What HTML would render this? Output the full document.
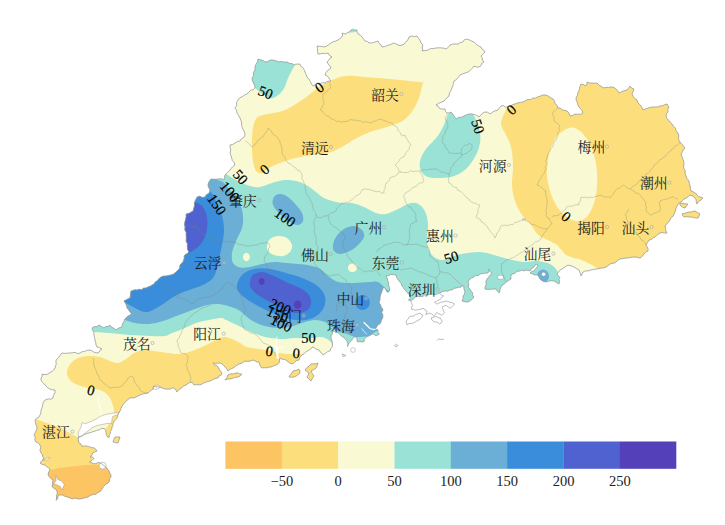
<!DOCTYPE html><html><head><meta charset="utf-8"><title>map</title><style>html,body{margin:0;padding:0;background:#fff;}body{width:725px;height:525px;overflow:hidden;font-family:"Liberation Sans",sans-serif;}svg{display:block;}</style></head><body><svg width="725" height="525" viewBox="0 0 725 525"><defs><clipPath id="gd"><path d="M258,59L260.4,59.8L262.9,60.5L265,62L267.7,61.6L270.2,60L273,60L275,60.7L277.1,61.1L279,62L281,61.3L283,62L285,62L287.5,62.1L289.5,63.4L292,63.6L294,65L295.9,64.1L298,64.2L300,64L300.8,66.3L303,67.7L304.1,69.8L305,72L306,74.3L306.8,76.7L308.5,78.7L309.9,80.7L311,83L312,85L314,86L315.6,84L318,83L320.3,83.5L322.7,82.7L325,83L326.8,81.8L328.8,81.1L331,81L329.8,79.7L329,78L327.3,76.1L325,75L326.1,72.3L328,70L329.6,69.1L331,68L329.8,65.9L328.2,64.1L327,62L328.7,60.4L329.9,58.2L332,57L329.5,55.5L328,53L325.5,53.7L323,53.2L320.5,53.9L318,54L317.4,51.4L317.5,48.7L317,46L319.3,46.3L321.7,46.4L324,47L326.6,46.1L328.8,44.6L331,43L333.2,41.6L335.7,41.1L338,40L340,38.5L342,37L342.6,35L342,33L343.9,33.8L346,34L347.5,32.4L349.8,31.9L351,30L352.5,29.4L354,30L355.5,29.9L357,30L357.1,32.1L358,34L360.3,35.1L362,37L363.5,39L365,41L367.3,41.4L369,43L371,42.9L373.1,42.7L375,42L376.5,41.6L378,41L378.9,43.3L380.9,44.8L382,47L384.4,46.6L386.7,45.8L389,45L391.5,44.1L394,43L396,43.9L398,45L400,45.5L402,45L404.1,44.2L405.3,42.3L407,41L408.2,39.1L409,37L411.6,36L414.4,36.6L417,36L418.3,38.1L420,40L420.9,42.9L423,45L422.2,46.9L422.7,49.1L422,51L424,50.5L426,50.6L428,50L430.5,48.6L433.3,48.6L436,48L438.5,47.8L441.1,47.9L443.6,48.1L446,49L448.3,47.3L450,45L452.6,44.1L455.3,44L458,44L460.2,42.6L462.8,42L464.4,39.7L467,39L469.4,39.9L471.6,41.1L474,42L476,44.1L478.4,45.7L481,47L481.9,49L483.9,50.1L485,52L483.1,54.1L481,56L482.2,57.9L482.5,60.3L484,62L481.8,63.2L481,65.7L479,67L476.4,67L474,66L472.3,68.3L470.3,70.3L468,72L465.3,73L462.6,73.9L460,75L458.3,77.3L456.5,79.5L454,81L453.5,83.4L452.9,85.7L452,88L450.9,90.6L449.4,93.1L449,96L447.1,97.5L445.7,99.3L444,101L441.3,102.2L438.5,103.4L436,105L438,106L439,108L440.9,108.9L442.9,109.1L445,109L445.5,111.3L447,113L449.1,112.9L451,112L452.8,114.2L454.5,116.6L456,119L458.5,117.4L461.4,117.2L464,116L466.5,114.7L469.2,114L472,114L474.5,114.6L476.9,115.5L479,117L480.8,115.1L482.6,113.2L485,112L487.8,112.3L490,114L492.4,112.2L495.1,110.8L498,110L499.3,107.9L501,106L503.4,105.6L505.6,107.2L508,107L510.4,106.2L512.5,104.5L515,104L517.6,103L520.3,102.4L523,102L525.4,100.8L527.8,99.5L530.7,99.5L533,98L535.6,98.1L537.8,96.8L540.2,96.2L542.4,95L545,95L547.9,95.8L550.4,97.5L553,99L554.6,101.1L555.1,103.7L557.2,105.5L558,108L560.5,108.1L562.3,110.1L564.7,110.3L567,111L569,113.2L570,116L572.6,115.5L575,114.1L577.8,114.2L580.6,114.3L583,113L582.1,110.7L580.6,108.8L579,107L577.9,104.9L577.3,102.6L576.3,100.4L576,98L577.4,95.3L578,92.4L579.4,89.7L579.8,86.7L581,84L583.7,84.6L586,86L587,84.1L587,82L589.4,83L591.9,83L594.5,83.2L597,83L599.1,85.1L601.5,86.6L604,88L606.2,87.3L608.5,87.5L610.7,87L613,87L615.5,88.5L617.5,90.5L619,93L621.6,91.7L624.2,90.7L627,90L628.7,88.2L630,86L631.6,88L634,89L633.1,91.5L632,94L633.2,96.4L634.8,98.5L637,100L637.9,102.9L640.2,104.9L641.9,107.3L643,110L645.4,108.9L647.9,108.1L650.4,107.3L653,107L655.4,106.9L657.8,106.9L660,106L662.5,105.8L664.7,104.6L667,104L667.8,105.6L669,107L667.8,109.1L668.1,111.7L666.5,113.7L666,116L667,118.4L668.7,120.3L670.2,122.2L672,124L673.5,126.2L675.4,128.2L676.1,131L678,133L678.7,135.2L678.6,137.6L678.8,139.9L680,142L681.8,143.9L683.4,145.9L685,148L683.1,150L682,152.5L681,155L682.2,157.1L683,159.3L683.7,161.6L684,164L683.6,166.3L684,168.6L685.3,170.7L685,173L685.9,175.9L687,178.7L689,181L689.3,183.5L690.2,186L690.4,188.5L691,191L693.3,191.9L695.4,193.1L697,195L698.7,196.6L700.9,197.2L703,198L701,200L698.5,201.5L697,204L696.2,202L696.2,199.8L695,198L692.8,196.1L690,195L688.2,196.7L686.2,198L684,199L682.5,200.6L680.9,202L679,203L677.4,205.4L676,208L675.7,210.1L674.8,212L674,214L673.1,216.3L670.8,217.7L670,220L668.5,222.1L666.7,224L665,226L665.5,228.4L665.8,230.8L667,233L664.7,233.1L662.3,232.4L660,233L658.3,234.3L656.6,235.6L655,237L653,238L651.3,239.6L649,240L647.6,242.5L646,245L647.1,246.8L648,248.8L648,251L645.7,252.1L644,254L642.3,256.3L640,258L638,257.7L636.1,257L634,257L631.3,257.2L628.7,257.9L626,258L624,258.3L622,258.6L620,259L617.7,260.2L616,262L614.2,263.2L612,263.2L610,264L608.2,265.6L606.2,266.9L604,268L601.3,267.9L598.7,268.7L596,269L593.3,269.6L590.6,270L588,271L585.4,270.9L583,272L582.1,274L581,276L580.5,273.9L579.7,272L579,270L576.5,268.5L574,267L572.1,266.1L570,265.7L568,265L566,266.3L564,267.7L562,269L559.9,270.2L558.5,272.1L557,274L558.1,275.9L560,277L559,279.2L559.7,281.7L559,284L556.5,282.4L554,281L551.3,280.7L548.6,281.2L546,282L543.8,281.5L541.7,280.5L540,279L538.9,277L538,275L535.2,275L532.6,274L530,273L531.7,271.4L534,271L535.5,269.1L537,267.2L538,265L536.5,264.4L535,265L533.7,267.3L531.4,268.8L530,271L528.1,270.3L526,270L524.1,270.9L521.9,270.1L520,271L517.1,271.3L514.8,273.4L512,274L510.8,276.4L511,279L508.6,280.6L506,282L504.5,283.8L502.4,285L501.1,286.9L500,289L500,291.1L499,293L497.4,291.1L496,289L493.2,289L490.5,289.2L487.8,289.5L485,289L485.2,286.4L486.3,284.1L485.8,281.4L487,279L488.7,277.1L490.3,274.9L492,273L489.9,271.4L489,269L488.7,271.1L488,273L485.3,273.1L482.7,273.6L480,274L478.3,275.6L475.7,275.3L474,277L471.3,278.1L469,280L468,282.2L468.9,284.8L468,287L469.8,288.8L471,291L472.6,292.7L472.6,295.2L474,297L472.2,299.2L470,301L468.1,302L466,302L464,301.6L462,301L463.1,298.6L463,296L464.4,294.2L465,292L464.3,290.1L463.8,288.1L464,286L462.3,285.9L461,287L458.5,287.4L456,288L453.9,288.4L452.2,289.9L450,290L447.6,291.2L445,291L442.9,291.4L441,292.4L439,293L436.7,294.4L434,294.5L431.6,294L429.3,294.6L427,295L424.6,295.1L422.5,296.7L420,296.6L417.5,296.3L415,297L413.2,299.4L410.5,300.7L408.4,300L409.9,298.8L410.5,297L409,294.5L407.4,292.8L406,291L404.5,289.5L403.4,287.6L402,286L401,283.2L399,281L397.7,279.2L396.5,277.2L396,275L393.5,274.7L391,274.5L388.6,275.6L386,276L387.2,278.1L387.7,280.4L388.5,282.6L388.4,285L389.5,287.4L389.8,290L389,291.4L387.8,292.4L386.5,290.9L385.7,289L384.5,288L383,287.6L382.6,289.9L381.6,292L380.8,294.5L380,297L380.1,299.1L379.6,301L379,303L380.6,304.7L381,307L382.3,308.3L383,310L381.6,312.4L382.9,314.8L382.8,317.6L381.4,320.2L380.7,323L378.8,324.4L377,326L376.4,327.6L375,328.6L376.5,329.3L378,330L378,332.2L379.3,334L377.3,335.3L375,335.5L373.9,334.3L372.4,334L370.4,335.2L368.3,336.2L366.9,336.9L365.5,337.6L364.3,339.5L364,341.7L361.7,341.9L359.5,341.7L357.2,341.7L357.1,339.3L356.5,337L354.5,337L353,338.3L351.5,340.5L349.7,342.4L348.2,344.2L347.6,346.5L347.9,344.4L347.6,342.4L346.4,340.2L344.8,338.3L342.9,337L341,335.6L339.3,334L337.4,332.4L336.5,330L334.6,331.2L332.4,331.4L332.6,333.7L331.1,335.7L331,338L331.8,340.3L332.4,342.6L332.4,345L332.3,347.1L330.5,348.6L330.3,350.7L327.6,351.6L325.5,353.4L323,355L321.9,353.2L320.1,351.9L319,350L316.8,349.3L314.9,348.3L313,347L311,348.4L309.3,350.1L307,351L305.4,352.4L303.9,353.9L302,355L299.9,357.1L299,360L296.3,360.7L294.3,362.6L292,364L289.3,362.8L287,361L284.9,359.4L282.2,359.3L280,358L279.5,360.1L279.4,362.2L278,364L275.7,365.2L273.3,366L271,367L268.7,367.2L266.5,367.9L264.2,367.7L262,368L260.3,366.3L259.7,364.2L259,362L256.8,361.9L255,360.8L253,360L250.4,361L247.8,361.4L245,361L243.1,362.3L241.2,363.4L239,364L236.9,365.2L235,366.6L233,368L230.3,369.2L228,371L226.7,368.9L225,367L223.5,365.4L222,363.9L220,363L217.7,363.2L215.3,363.3L213,363L214.2,364.9L216.7,365.3L218,367L219.1,369.2L220.5,371.1L222,373L221.2,375.1L218.9,376L218,378L215.1,378.4L212.6,379.8L210,381L207.2,381.7L204.5,382.6L202,384L199.4,384.9L196.7,384.6L194,385L193,383.5L192,382L189.8,382.6L187.8,383.6L186,385L183.7,385.9L181.9,387.6L180,389L178.1,390.1L177,392L175.7,389.8L174,388L172,388L170.1,389.1L168,389L165.2,389L162.5,388.2L160,387L158,386.9L155.9,386.9L154,386L153,387.3L153,389L151.3,390.3L149.5,391.5L148,393L145.3,393.5L142.6,394.1L140,395L138,396L136,397L133.6,398L131,397.6L128.5,398.9L126.5,401L124.7,402.4L123.5,404.3L122,406L121,408.5L120,411L118.5,413.4L117.5,416L116.8,418.5L115,420.4L113.7,421.9L113,423.7L112.9,425.5L112,427L111.7,429.5L110.3,431.5L110.3,433.6L109.2,435.4L109.2,437.5L107.5,437L106.3,434.6L106,432L105.6,430.1L104.6,428.5L101.7,428.4L99.2,429.8L96.5,430.4L94,431.4L91.3,432.2L88.7,433L86.4,433.7L84.1,434.6L82,436L80.1,436.3L78.2,437L78.3,439.8L78.8,442.5L80.9,444L82,446.4L84.2,445.9L86.5,446L88.7,446.4L91.4,447.6L94.3,448L95.9,449.3L97,451L94.8,451.9L92.6,453L91.9,455.4L90,457L92.2,457L94,458.3L92,460.4L89.5,462L91.4,462.8L93.3,463.5L95.3,463.8L96.8,463.3L98,462.4L100,463L102.2,464.1L104,465.7L106,467L107.5,469L109,471L109.7,473L110.9,474.8L111,477L109.5,478.7L109.4,481.2L108,483L105.5,484.5L103.5,486.5L102,489L100.5,491.2L98,492.4L96,494L93.2,494.6L90.4,495.3L88,497L85.5,497.6L83.1,498.3L80.6,498.9L78,499L75.4,498L72.6,498.8L70,498L67.7,496.9L65.1,496.5L63,495L61.2,495L59.5,495L57.8,496.4L57.6,498.8L56,500.3L56.7,498L56.5,495.7L57.3,493.4L57,491L55.5,489.1L53.4,488L52,486L52.9,484.1L52.6,482L53,480L50.8,478.5L49.1,476.5L48,474L49,471.5L50,469L48.3,467.7L46.5,466.6L45,465L42.3,464.5L40,463L41.8,460.8L44,459L42.8,457.1L42.5,454.8L41,453L39.9,450.4L40.7,447.6L40,445L38.3,443.1L36,442L34.8,439.8L35.3,437.2L34,435L35.3,432.4L36.6,429.9L37,427L36,424.8L35.5,422.4L35,420L36.6,418.2L38.9,417.2L40,415L40.8,412.7L41.1,410.3L42,408L42.6,405.6L43,403.2L44,401L46,399.6L48.3,398.9L50.9,399.2L53,398L53.4,395.3L55,392.8L55,390L52.4,389.9L50,389L47.8,387.8L46,386L44.3,384L42.3,382.3L41,380L41.1,378L42.3,376.1L42,374L44,374.6L46,374.5L48,374L49.9,372.6L51.9,371.5L53.7,370L55,368L55.6,365.8L56.3,363.6L55.8,361.1L57,359L58.9,357.2L60.3,355L62,353L64.7,353.4L67.3,353.2L70,353L72.5,352.7L75,352.3L77.5,353.6L80,353L82.1,351.7L84.5,351.5L86.7,350.5L89,350L91.8,350.7L94.2,352.3L97,353L99.1,352.2L100.1,350.1L102,349L99.6,347.8L97,347L96,344.7L95.7,342.3L95,340L94.5,337.4L93.8,334.7L94,332L92.5,330.2L92,328L94.2,326.6L96.9,326.6L99,325L101.5,326.5L104,328L105.8,326.6L108.3,326.5L110,325L111.5,327.2L114,328.3L116,330L117.8,328.5L119.8,327.6L122,327L122.4,324.1L123.8,321.6L125,319L127,316.8L129.4,315.3L132,314L130.1,312.2L128.7,309.9L127,308L126.5,305.4L125.3,303.2L124,301L125.9,299.9L127.9,298.9L130,298L130.4,295.7L130.5,293.3L131,291L133,290.4L134.9,289.7L137,290L139.2,289.2L141.7,289.7L143.6,288L146,288L148,287L150.1,286.2L152,285L154,284.1L155.1,282L157,281L158.8,278.8L161,277L163.4,276.1L166,275.9L168.5,275.4L171,275L173.7,273.9L176,272.1L178,270L179.7,268.3L179.9,265.6L181.2,263.6L183,262L183.6,260.1L184.3,258.1L184,256L185.6,254.6L187.4,253.4L189,252L187.5,249.4L187.3,246.5L187.4,243.6L186,241L186.3,238.2L186.1,235.4L186.1,232.5L184.8,229.8L185,227L184.6,224.4L184.9,221.8L185.6,219.2L186.1,216.6L186,214L188.6,213.6L190.8,212.3L193,211L193.7,208.5L194.4,206.1L194.4,203.5L195,201L196.1,199L197,197L199.7,196.3L202.3,197.4L205,197L206.4,194.7L208.8,193.4L210,191L209.5,188.9L208.4,187.1L208,185L208.5,182.8L209.7,180.8L211,179L213.3,179.2L215.7,179.3L218,179L220.1,178.8L222.1,179L224,180L224.5,177.5L225,175L227.1,173.1L229,171L230.9,168.9L232.7,166.7L235,165L234.1,162.5L232.3,160.5L231.7,157.9L230.9,155.4L230,153L230.7,150.3L230.2,147.7L230,145L232.7,144.5L235,143L237.4,141.6L240,141L241.4,138.8L243.9,137.4L245,135L244.5,132.1L243.1,129.4L241.8,126.7L241.7,123.7L241.1,120.8L240,118L238.6,115.6L237.2,113.2L236.5,110.4L235,108L236.6,105.6L236.6,102.5L238,100L239.8,97.8L242.3,96.6L244.5,95.1L247,93.8L249,92L250.7,90.3L253.2,89.7L255,88L254.6,85.4L253.5,83L252.3,80.6L252,78L253.5,75.5L253.4,72.5L255,70L255,67L255.9,64.3L257.5,61.8ZM682,214L684.3,213.3L686.7,212.7L689,212L691.1,212.1L693,211.3L695,211L697.5,212.5L700,214L698.9,216L698,218L695.6,218L693.3,217.3L691,217L688.7,216.9L686.3,216.7L684,217L682.7,215.7ZM680,203L682.7,203.3L685.3,203.8L688,204L686.4,205.9L685,208L682.8,207.3L681,206L680,204.7ZM289,377L290.1,374.9L291.8,373.1L293,371L295.1,370.5L297.1,370L299,369L299.8,370.9L300,373L298.1,374.6L296.2,376L294,377L291.5,377.3ZM305,370L306.7,367.7L309.1,366.1L311,364L313.4,363.8L315.7,363.8L318,363L317.2,365.6L316,368L313.6,369.7L311,371L312.3,373.6L314,376L312.4,378.4L311,381L308.9,379.1L307,377L308.2,375.1L309,373L306.9,371.6ZM225,380L226.9,377.7L228,375L230.5,373.9L233.4,373.9L236,373L238.1,373L239.9,374.1L242,374L240.3,375.9L238,377L235.2,377.3L232.6,378.2L230,379L227.4,379.1ZM113,442L113.9,439.4L115,437L117.5,437L120,437L119.4,439L118.7,441L118,443L115.5,442.6Z"/></clipPath></defs><g clip-path="url(#gd)"><rect x="0" y="0" width="725" height="525" fill="#F9FAD4"/><path fill="#FCDF7C" d="M252,140C252.2,136.3 252.3,131.5 253,128C253.7,124.5 254.3,121.2 256,119C257.7,116.8 258.2,116.5 263,115C267.8,113.5 278,112.8 285,110C292,107.2 299.3,101.8 305,98C310.7,94.2 314.5,90 319,87C323.5,84 327.5,81.8 332,80C336.5,78.2 340.5,76.5 346,76C351.5,75.5 357.7,76.5 365,77C372.3,77.5 382.5,78.3 390,79C397.5,79.7 404.5,80.4 410,81C415.5,81.6 420.8,82.2 423,82.5C425.2,82.8 423.7,79.9 423,82.5C422.3,85.1 420.7,93.4 419,98C417.3,102.6 415.5,106.3 413,110C410.5,113.7 407.8,117.3 404,120C400.2,122.7 395.7,124 390,126C384.3,128 375.8,129.8 370,132C364.2,134.2 360,136.3 355,139C350,141.7 344.5,145.7 340,148C335.5,150.3 332.7,151.8 328,153C323.3,154.2 317.3,154.2 312,155C306.7,155.8 301.3,156.7 296,158C290.7,159.3 284.5,161.3 280,163C275.5,164.7 272,166.3 269,168C266,169.7 264.2,172.5 262,173C259.8,173.5 257.5,173 256,171C254.5,169 253.7,164.5 253,161C252.3,157.5 252.2,153.5 252,150C251.8,146.5 251.8,143.7 252,140Z"/><path fill="#FCDF7C" d="M514,96C512.5,98.7 507.2,107.3 505,112C502.8,116.7 500.8,120.2 501,124C501.2,127.8 504.3,131.2 506,135C507.7,138.8 509.8,142 511,147C512.2,152 512.8,158.7 513,165C513.2,171.3 511.7,179 512,185C512.3,191 513.3,196 515,201C516.7,206 519.3,211 522,215C524.7,219 528.3,221.7 531,225C533.7,228.3 535.2,232.2 538,234.7C540.8,237.2 544.6,238.4 547.6,240C550.6,241.6 553.7,242.7 556,244.3C558.3,245.9 559.8,248.1 561.4,249.8C563,251.5 563.7,253.4 565.5,254.7C567.3,256 569.9,256.6 572.4,257.4C574.9,258.2 577.9,258.5 580.7,259.5C583.5,260.5 586.7,262.5 589,263.6C591.3,264.8 592.5,265.2 594.5,266.4C596.5,267.5 599.9,269.8 601,270.5L600,300L720,300L720,60L560,60Z"/><path fill="#FCDF7C" d="M104,433C104.5,432 105.7,429.2 107,427C108.3,424.8 110.8,422.5 112,420C113.2,417.5 113.8,414.3 114,412C114.2,409.7 113.7,408.3 113,406C112.3,403.7 111.5,400.3 110,398C108.5,395.7 106.3,393.5 104,392C101.7,390.5 99.3,389.8 96,389C92.7,388.2 88,388.2 84,387C80,385.8 74.8,384.2 72,382C69.2,379.8 67.5,376.7 67,374C66.5,371.3 67.5,368.5 69,366C70.5,363.5 72.8,360.7 76,359C79.2,357.3 84,356.3 88,356C92,355.7 96.3,356.2 100,357C103.7,357.8 107,360 110,361C113,362 115.3,363.3 118,363C120.7,362.7 123.3,360.7 126,359C128.7,357.3 131,354.5 134,353C137,351.5 140.7,350.3 144,350C147.3,349.7 150,350.5 154,351C158,351.5 163.7,352.5 168,353C172.3,353.5 176,354.3 180,354C184,353.7 188,352.3 192,351C196,349.7 200,347.8 204,346C208,344.2 212.7,341.5 216,340C219.3,338.5 221.3,337.2 224,337C226.7,336.8 229.3,338 232,339C234.7,340 237.5,341.7 240,343C242.5,344.3 243.8,346 247,347C250.2,348 255,348.3 259,349C263,349.7 267.7,350.3 271,351C274.3,351.7 276.3,352.5 279,353C281.7,353.5 284,353.8 287,354C290,354.2 294,354.2 297,354C300,353.8 302.3,354.3 305,353C307.7,351.7 311.7,347.2 313,346L335,400L125,455L100,442Z"/><path fill="#FCDF7C" d="M25,415C26.8,415.7 31.8,417.5 36,419C40.2,420.5 45.3,422.2 50,424C54.7,425.8 59.5,427.8 64,430C68.5,432.2 72.7,434.8 77,437C81.3,439.2 87.8,442 90,443L135,450L135,520L20,520Z"/><path fill="#F9FAD4" d="M569,128C565.8,129 560.8,132.2 558,135C555.2,137.8 553.7,141 552,145C550.3,149 548.8,154 548,159C547.2,164 546.7,169.7 547,175C547.3,180.3 548.7,186.3 550,191C551.3,195.7 553,199.3 555,203C557,206.7 559.5,210.3 562,213C564.5,215.7 567.2,217.7 570,219C572.8,220.3 576.2,221.3 579,221C581.8,220.7 584.2,219.3 586.5,217C588.8,214.7 590.8,211.3 592.5,207C594.2,202.7 595.8,197 596.5,191C597.2,185 597.4,177 597,171C596.6,165 595.3,159.7 594,155C592.7,150.3 590.7,146.3 589,143C587.3,139.7 586,137.3 584,135C582,132.7 579.5,130.2 577,129C574.5,127.8 572.2,127 569,128Z"/><path fill="#FCC462" d="M38,473C40,472.5 46.3,470.8 50,470C53.7,469.2 55.7,468.7 60,468C64.3,467.3 71.3,466.5 76,466C80.7,465.5 84,465.2 88,465C92,464.8 95.7,464.7 100,465C104.3,465.3 111.7,466.7 114,467L135,470L135,520L25,520Z"/><path fill="#99E2D5" d="M249,84C250,84.7 252.5,86.2 255,88C257.5,89.8 261,93.3 264,95C267,96.7 269.8,98.8 273,98C276.2,97.2 280.3,93.7 283,90C285.7,86.3 286.8,80.5 289,76C291.2,71.5 294.8,65.2 296,63L300,50L240,50Z"/><path fill="#99E2D5" d="M452,108C451.2,109.5 448.5,113.8 447,117C445.5,120.2 444.7,123.7 443,127C441.3,130.3 439.8,133.3 437,137C434.2,140.7 428.8,145 426,149C423.2,153 420.8,157.3 420,161C419.2,164.7 419.7,168.3 421,171C422.3,173.7 424.8,175.8 428,177C431.2,178.2 435.7,178.2 440,178C444.3,177.8 449.7,177.5 454,176C458.3,174.5 462.3,172.5 466,169C469.7,165.5 473.7,159.3 476,155C478.3,150.7 479.3,146.7 480,143C480.7,139.3 480.5,136.5 480,133C479.5,129.5 478.3,125.5 477,122C475.7,118.5 472.8,113.7 472,112L465,105Z"/><path fill="#99E2D5" d="M358,30C358,30.4 357.6,30.9 356.9,31.2C356.3,31.6 355.2,32 354,32.2C352.8,32.4 351.3,32.5 350,32.5C348.7,32.5 347.2,32.4 346,32.2C344.8,32 343.7,31.6 343.1,31.2C342.4,30.9 342,30.4 342,30C342,29.6 342.4,29.1 343.1,28.8C343.7,28.4 344.8,28 346,27.8C347.2,27.6 348.7,27.5 350,27.5C351.3,27.5 352.8,27.6 354,27.8C355.2,28 356.3,28.4 356.9,28.8C357.6,29.1 358,29.6 358,30Z"/><path fill="#99E2D5" d="M220,170C221,170.7 223,172.2 226,174C229,175.8 234,179 238,181C242,183 246.3,185 250,186C253.7,187 256.3,187.5 260,187C263.7,186.5 268,184.2 272,183C276,181.8 280,180.3 284,180C288,179.7 292.3,180.2 296,181C299.7,181.8 302.7,183.2 306,185C309.3,186.8 313,189.8 316,192C319,194.2 320.7,196.3 324,198C327.3,199.7 332.5,201.2 336,202C339.5,202.8 342.3,202.8 345,203C347.7,203.2 348.8,202.3 352,203C355.2,203.7 360,205.3 364,207C368,208.7 372.3,211.8 376,213C379.7,214.2 382.3,214.7 386,214C389.7,213.3 394.3,210.7 398,209C401.7,207.3 405,205 408,204C411,203 413.5,202.3 416,203C418.5,203.7 421.2,205.7 423,208C424.8,210.3 426.2,213.8 427,217C427.8,220.2 428,223.2 428,227C428,230.8 426.8,236.2 427,240C427.2,243.8 427.8,247.2 429,250C430.2,252.8 431.8,255.3 434,257C436.2,258.7 439.3,259.9 442,260C444.7,260.1 446.3,258.6 450,257.5C453.7,256.4 459,254.4 464,253.5C469,252.6 475,251.8 480,252C485,252.2 489.3,253.8 494,255C498.7,256.2 503,257.8 508,259C513,260.2 519.7,261.7 524,262C528.3,262.3 530.5,261 534,261C537.5,261 542,261.5 545,262.2C548,262.9 549.9,263.9 551.7,265C553.5,266.1 555,267.7 556,269C557,270.3 557.5,271.1 558,272.6C558.5,274.1 558.8,277.1 559,278L570,310L345,380L334,348C333.3,346.8 332.2,342.8 330,341C327.8,339.2 324.7,337.4 321,337C317.3,336.6 312.3,338.3 308,338.5C303.7,338.7 299.5,337.9 295,338C290.5,338.1 286,339.2 281,339C276,338.8 270,338.2 265,337C260,335.8 255.7,334 251,332C246.3,330 241.3,327.1 237,325C232.7,322.9 227.7,320.7 225,319.5C222.3,318.3 223.7,317.9 221,318C218.3,318.1 213.2,319.2 209,320C204.8,320.8 200.2,321.6 196,323C191.8,324.4 188,326.8 184,328.5C180,330.2 175.2,331.8 172,333C168.8,334.2 168.7,335.5 165,336C161.3,336.5 155.8,336.2 150,336C144.2,335.8 136.7,335.5 130,335C123.3,334.5 115.8,333.5 110,333C104.2,332.5 99.7,332.3 95,332C90.3,331.7 84.2,331.2 82,331L85,310L120,285L150,265L180,200Z"/><path fill="#F9FAD4" d="M267,246C267.3,244 268.2,240.7 270,239C271.8,237.3 275.2,236.2 278,236C280.8,235.8 284.7,236.5 287,238C289.3,239.5 291.5,242.7 292,245C292.5,247.3 291.5,250.2 290,252C288.5,253.8 285.7,255.5 283,256C280.3,256.5 276.5,255.8 274,255C271.5,254.2 269.2,252.5 268,251C266.8,249.5 266.7,248 267,246Z"/><path fill="#F9FAD4" d="M249.9,257C249.9,257.7 249.7,258.5 249.4,259.1C249.1,259.7 248.7,260.3 248.2,260.6C247.6,261 247,261.2 246.4,261.2C245.8,261.2 245.2,261 244.7,260.6C244.1,260.3 243.7,259.7 243.4,259.1C243.1,258.5 242.9,257.7 242.9,257C242.9,256.3 243.1,255.5 243.4,254.9C243.7,254.3 244.1,253.7 244.7,253.4C245.2,253 245.8,252.8 246.4,252.8C247,252.8 247.6,253 248.2,253.4C248.7,253.7 249.1,254.3 249.4,254.9C249.7,255.5 249.9,256.3 249.9,257Z"/><path fill="#F9FAD4" d="M356.9,267.8C356.9,268.5 356.7,269.3 356.3,269.9C355.9,270.6 355.3,271.2 354.6,271.5C354,271.9 353.1,272.1 352.4,272.1C351.6,272.1 350.8,271.9 350.1,271.5C349.5,271.2 348.9,270.6 348.5,269.9C348.1,269.3 347.9,268.5 347.9,267.8C347.9,267.1 348.1,266.3 348.5,265.7C348.9,265 349.5,264.4 350.1,264.1C350.8,263.7 351.6,263.5 352.4,263.5C353.1,263.5 354,263.7 354.6,264.1C355.3,264.4 355.9,265 356.3,265.7C356.7,266.3 356.9,267.1 356.9,267.8Z"/><path fill="#6BAED6" d="M212,176C213,176.7 216,178.8 218,180C220,181.2 221.7,180.8 224,183C226.3,185.2 229.3,189.5 232,193C234.7,196.5 238.2,200.2 240,204C241.8,207.8 242.7,212 243,216C243.3,220 243.2,223.8 242,228C240.8,232.2 237.7,236.8 236,241C234.3,245.2 232.5,249.3 232,253C231.5,256.7 231.7,260.6 233,263C234.3,265.4 237.2,266.8 240,267.5C242.8,268.2 246.3,267.6 250,267C253.7,266.4 258,264.8 262,264C266,263.2 270,262.2 274,262C278,261.8 282,262.7 286,263C290,263.3 294,263.6 298,264C302,264.4 306.3,264.7 310,265.5C313.7,266.3 317,267.2 320,269C323,270.8 325,273.8 328,276C331,278.2 333.7,280.8 338,282C342.3,283.2 348.7,283 354,283C359.3,283 366,282.2 370,282C374,281.8 375.3,280.8 378,282C380.7,283.2 384.7,287.8 386,289L400,300L400,335L381,328C380,328.7 377.2,330.7 375,332C372.8,333.3 371.2,335.2 368,336C364.8,336.8 359.5,337.3 356,337C352.5,336.7 350,334.9 347,334C344,333.1 340.3,332.4 338,331.4C335.7,330.4 335.2,329.6 333,328C330.8,326.4 328,323.3 325,322C322,320.7 318.3,320 315,320C311.7,320 308.7,321 305,322C301.3,323 297.3,325 293,326C288.7,327 283.7,328 279,328C274.3,328 269.7,327.3 265,326C260.3,324.7 255.2,322.5 251,320C246.8,317.5 243.3,313.2 240,311C236.7,308.8 234.5,308.2 231,307C227.5,305.8 223,304.3 219,304C215,303.7 211,304.2 207,305C203,305.8 199.7,307.3 195,309C190.3,310.7 184.3,313 179,315C173.7,317 168,319.5 163,321C158,322.5 153.7,323.7 149,324C144.3,324.3 139,323.7 135,323C131,322.3 128.3,321 125,320C121.7,319 116.7,317.5 115,317L110,280L150,260L170,200Z"/><path fill="#6BAED6" d="M274,197C275.2,195.2 277.7,194 280,194C282.3,194 285.3,195.2 288,197C290.7,198.8 293.7,202.3 296,205C298.3,207.7 300.8,210.3 302,213C303.2,215.7 303.7,219 303,221C302.3,223 300.2,224.8 298,225C295.8,225.2 293,223.8 290,222C287,220.2 282.8,216.8 280,214C277.2,211.2 274,207.8 273,205C272,202.2 272.8,198.8 274,197Z"/><path fill="#6BAED6" d="M333,245C333.3,242.7 334.2,239.7 336,237C337.8,234.3 341,230.8 344,229C347,227.2 351,225.8 354,226C357,226.2 360.3,228.2 362,230C363.7,231.8 364.7,234.5 364,237C363.3,239.5 360.3,242.7 358,245C355.7,247.3 353,249.5 350,251C347,252.5 342.7,254 340,254C337.3,254 335.2,252.5 334,251C332.8,249.5 332.7,247.3 333,245Z"/><path fill="#6BAED6" d="M549,276C549,277.1 548.7,278.3 548.2,279.2C547.7,280.2 546.9,281.1 546,281.6C545.1,282.2 544,282.5 543,282.5C542,282.5 540.9,282.2 540,281.6C539.1,281.1 538.3,280.2 537.8,279.2C537.3,278.3 537,277.1 537,276C537,274.9 537.3,273.7 537.8,272.8C538.3,271.8 539.1,270.9 540,270.4C540.9,269.8 542,269.5 543,269.5C544,269.5 545.1,269.8 546,270.4C546.9,270.9 547.7,271.8 548.2,272.8C548.7,273.7 549,274.9 549,276Z"/><path fill="#3A8DDA" d="M205,188C205.8,188.5 208.5,189.5 210,191C211.5,192.5 212.5,194.2 214,197C215.5,199.8 217.5,204.2 219,208C220.5,211.8 222.2,216 223,220C223.8,224 224.2,227.8 224,232C223.8,236.2 222.8,240.8 222,245C221.2,249.2 220.3,253.2 219.5,257C218.7,260.8 218.1,264.5 217,268C215.9,271.5 215.3,275.2 213,278C210.7,280.8 207,283 203,285C199,287 193.7,288.2 189,290C184.3,291.8 179.3,293.7 175,296C170.7,298.3 166.7,301.7 163,304C159.3,306.3 156,308.7 153,310C150,311.3 148,312.3 145,312C142,311.7 138.2,309.5 135,308C131.8,306.5 128.8,304.5 126,303C123.2,301.5 119.3,299.7 118,299L115,290L130,270L170,230Z"/><path fill="#3A8DDA" d="M237,285C237.5,282.2 239.2,277.7 242,275C244.8,272.3 249.3,270 254,269C258.7,268 264.7,268.3 270,269C275.3,269.7 280.7,271.5 286,273C291.3,274.5 297,276 302,278C307,280 312.3,282.3 316,285C319.7,287.7 322.5,290.8 324,294C325.5,297.2 325.7,300.8 325,304C324.3,307.2 322.5,310.5 320,313C317.5,315.5 314,317.8 310,319C306,320.2 301,320.5 296,320C291,319.5 285.3,317.8 280,316C274.7,314.2 269.3,311.7 264,309C258.7,306.3 252.2,302.8 248,300C243.8,297.2 240.8,294.5 239,292C237.2,289.5 236.5,287.8 237,285Z"/><path fill="#3A8DDA" d="M369.8,302.5C369.8,303.8 369.4,305.2 368.8,306.3C368.2,307.4 367.2,308.4 366.1,309.1C365.1,309.7 363.7,310.1 362.5,310.1C361.3,310.1 359.9,309.7 358.9,309.1C357.8,308.4 356.8,307.4 356.2,306.3C355.6,305.2 355.2,303.8 355.2,302.5C355.2,301.2 355.6,299.8 356.2,298.7C356.8,297.6 357.8,296.6 358.9,295.9C359.9,295.3 361.3,294.9 362.5,294.9C363.7,294.9 365.1,295.3 366.1,295.9C367.2,296.6 368.2,297.6 368.8,298.7C369.4,299.8 369.8,301.2 369.8,302.5Z"/><path fill="#4F62CF" d="M192,201C192.8,201.3 195.2,202 197,203C198.8,204 201.3,204.7 203,207C204.7,209.3 206.3,213.3 207,217C207.7,220.7 207.5,225.3 207,229C206.5,232.7 205.5,236 204,239C202.5,242 200.5,244.7 198,247C195.5,249.3 191.5,251.5 189,253C186.5,254.5 184,255.5 183,256L175,250L175,205Z"/><path fill="#4F62CF" d="M250,282C250.3,279.8 251,276.7 253,275C255,273.3 258.5,271.8 262,272C265.5,272.2 269.7,274.2 274,276C278.3,277.8 283.7,281 288,283C292.3,285 296.5,286 300,288C303.5,290 307.2,292.3 309,295C310.8,297.7 311.5,301.3 311,304C310.5,306.7 308.5,309.5 306,311C303.5,312.5 299.7,313.3 296,313C292.3,312.7 288.3,310.8 284,309C279.7,307.2 274.3,304.3 270,302C265.7,299.7 261.2,297.3 258,295C254.8,292.7 252.3,290.2 251,288C249.7,285.8 249.7,284.2 250,282Z"/><path fill="#5440B9" d="M264.6,281.4C264.6,282 264.4,282.6 264.2,283.1C263.9,283.7 263.5,284.1 263.1,284.4C262.7,284.7 262.1,284.9 261.6,284.9C261.1,284.9 260.5,284.7 260.1,284.4C259.7,284.1 259.3,283.7 259,283.1C258.8,282.6 258.6,282 258.6,281.4C258.6,280.8 258.8,280.2 259,279.6C259.3,279.1 259.7,278.7 260.1,278.4C260.5,278.1 261.1,277.9 261.6,277.9C262.1,277.9 262.7,278.1 263.1,278.4C263.5,278.7 263.9,279.1 264.2,279.6C264.4,280.2 264.6,280.8 264.6,281.4Z"/><path fill="#5440B9" d="M301.5,304.6C301.5,305.3 301.3,306.1 301,306.8C300.7,307.4 300.1,308 299.6,308.3C299.1,308.7 298.3,308.9 297.7,308.9C297.1,308.9 296.3,308.7 295.8,308.3C295.3,308 294.7,307.4 294.4,306.8C294.1,306.1 293.9,305.3 293.9,304.6C293.9,303.9 294.1,303.1 294.4,302.5C294.7,301.8 295.3,301.2 295.8,300.9C296.3,300.5 297.1,300.3 297.7,300.3C298.3,300.3 299.1,300.5 299.6,300.9C300.1,301.2 300.7,301.8 301,302.5C301.3,303.1 301.5,303.9 301.5,304.6Z"/></g><g fill="#fff" stroke="#9a9a9a" stroke-width="0.5"><path d="M78.5,437.5L78.2,432.6L81,427L82,422.6L85.4,423.7L91,421.5L96.5,418.8L101,416L106.4,414.3L113,413.2L119,412.5L118,414.5L112.5,416.5L111.5,423.5L108,423.3L103,424.3L97,425.5L92,427.8L88,431L84,434L80.5,437Z"/><path d="M56,475.5L58.1,479.7L61.6,481L64.3,484.5L62.2,490L60.2,486.6L54.7,483.8L51.9,485.2L56,481Z"/><path d="M42,460L50,457L48,460Z"/><path d="M497,276L501,275L504,277L502,279.5L498,279Z"/><path d="M153.5,386L158,385L160.5,387L157,389.5L153.5,389Z"/><circle cx="102.6" cy="465.6" r="3.5"/><circle cx="543.6" cy="274.2" r="2"/><circle cx="353" cy="350" r="2.4"/></g><g fill="none" stroke="#fff" stroke-linecap="round"><path stroke-width="1" d="M97.6,396L98.8,399L98.4,402L99.8,405L99.6,408L100.8,411L101.5,415"/><path stroke-width="0.9" d="M277,337L275.8,340L276.6,343L276.4,346"/><path stroke-width="2" d="M276.4,346L277,350L277.4,354L277.8,358"/><path stroke-width="0.9" d="M277,348L281,347.5L284,346"/><path stroke-width="1.2" d="M364,322.5L367,325.5L370,328.5L373.5,329.6L377.8,328.4"/><path stroke-width="0.7" d="M362,328.7L364,331.5L366.5,334"/></g><g fill="none" stroke="#7f8078" stroke-opacity="0.55" stroke-width="0.6" stroke-linejoin="round"><path d="M329,82L330.2,83.8L330,86.1L331,88L328.9,89.3L327,91L325.3,92.9L323,94L322.8,96.5L323,99L323.7,101.5L324,104L322.7,106L321.7,108.2L320,110L322.3,110.9L323.6,112.8L325.2,114.6L327,116L329.4,116.6L330.8,118.8L333.2,119.2L335.2,120.4L337,122L339.2,121L341.7,122.2L343.9,121.5L346.2,121.5L348.5,120.8L350.6,119.5L353,120L355.5,120.2L357.9,120.9L360.4,120.7L362.6,122.4L365.2,121.9L367.7,122L370,123L372.2,122.7L373.8,120.8L376.3,121.2L378,119.7L380,119L382,119.8L384.1,120.3L386,121.2L388,122L390.2,122.6L392.3,123.3L393.7,125.5L396,126L397.6,128L398.1,130.7L400.2,132.5L401,135L403,135.8L405,135L405.7,137.3L407.1,139.2L408.2,141.2L409.7,143.1L411,145L409.5,146.8L409.1,149.3L407.4,151L405.8,152.7L405,155L403.7,157L401.2,157.9L399.6,159.6L398.4,161.8L396.8,163.5L395,165L396.6,166.7L398.1,168.4L398.9,170.8L401,172"/><path d="M401,172L398.4,172.6L396.8,175L394.6,176.4L392,177L389.9,177.9L389.4,180.4L387.9,181.9L386,183L385.3,185.5L385.2,188L383.9,190.4L384,193L381.4,192.9L379.1,191.3L376.4,191.8L374,191L371.5,190.3L369.1,189.3L366.6,189.2L364,189L362,190L360.8,191.8L360,194L358,195L355.6,196L353.9,197.9L352.2,199.7L350,201L348.2,202.3L345.8,202.1L344,203.3L341.7,203.5L340,205L338.3,206.8L336.7,208.6L336,211L334,211.9L331.9,212.7L329.9,213.8L328,215L328.9,216.9L328.3,219.2L329.8,220.9L330,223L331.7,224.9L333.6,226.6L335.9,227.7L338,229"/><path d="M401,172L403.4,172.6L405.8,172.5L408.2,172.3L410.5,170.8L412.9,171.5L415.2,171.1L417.6,171.2L420,171L422.2,170.1L424.6,169.8L427,169.9L429.3,169.2L431.7,169.3L434,169L436.3,169L438.2,169.9L439.9,171.6L442,172L444.4,172.5L446.7,173.4L449,174L450.3,172L450.8,169.5L451.4,167.1L453.4,165.4L454,163L455.7,161.5L457.4,160L458.9,158.3L460.9,157.1L462,155"/><path d="M449,153L448.1,150.8L447.1,148.7L445.1,147.3L445,144.6L442.7,143.2L442,141L442.9,139.1L442.7,136.8L444,135L445.4,132.9L445.5,130.3L447.3,128.4L448,126L447.6,123.9L446.9,121.9L445.7,120L445,118L446.2,116.6L447.1,115L447,113"/><path d="M449,174L449.2,176.2L448.3,178.5L448.5,180.8L449,183L451.1,184L452.3,186.1L454.4,187.2L456.8,187.7L457.7,190.3L460,191L461.9,192.4L463.6,194.1L465.1,195.9L466.6,197.8L468.8,198.9L470,201L471.9,202.1L473.8,203.1L476,203.4L477.8,204.6L480,205L479,207.3L477.9,209.6L478.1,212.4L477,214.7L476,217L478,218.5L480.4,219.5L481.5,222.1L484,223L485.3,225.1L487.5,226.6L488.4,229.1L490,231L491.4,232.7L492.9,234.2L494.2,235.9L495,238L496.1,235.8L496.7,233.3L498.6,231.5L499.7,229.3L500.3,226.9L502,225L503.9,225.9L506.1,224.9L508,226L510.2,224.5L513,224.5L515,222.6L517.6,221.9L520,221L522,220.4L524,219.6L526,219L524,219L522,219L524,220L526,221L528.3,221.4L530,223L531.8,224.5L534.2,224.7L536.3,225.4L538,227L540.3,227.4L542.4,228.5L544.7,228.7L547,229"/><path d="M420,171L420.4,173.1L422,174.8L422.8,176.8L423.1,179.1L424,181L422.4,182.8L419.8,183L417.8,184.2L416.4,186.4L414,187L411.8,188.4L410,190.2L407.9,191.6L405.5,192.8L404,195L403.7,197.2L405.1,199L405,201.1L406,203L407.3,204.9L408.7,206.7L411.3,207.3L411.9,209.9L414,211L415,212.9L415.8,214.8L415.7,217L415.9,219.2L417,221L414.9,221.4L413.6,223.2L411.5,223.5L410,225L410.6,227.5L408.9,230L409.8,232.5L409.3,235L409.8,237.5L409,240L408.6,242L407.7,243.7L406,245"/><path d="M558,108L556.3,109.3L554.8,110.8L553,112L552,114L553.2,115.8L554.2,117.8L553.8,120.2L555,122L556.8,123.1L558.5,124.5L560,126L559,128.1L559.5,130.6L557.9,132.6L558,135L556.9,137.3L556.3,139.9L554,141.6L553.3,144.1L552.9,146.7L550.7,148.5L550,151L548.6,152.8L547.7,154.8L547,157L546.5,159.4L545.8,161.7L547.2,164.3L545.4,166.5L546,169L544.7,170.9L544.1,173.2L542.5,174.9L541.7,177.1L540.2,178.9L539,180.8L538.1,183L537,185L539.2,185.7L540.7,187.3L542.6,188.3L544,190.1L546,191L545.5,193.5L546,195.8L546.6,198.2L547.3,200.6L547,203L546.5,205.4L547,207.8L545.6,210.1L546.7,212.6L546,215L546.9,217.4L549.6,218.5L550.1,221.3L552,223L550.6,225.2L548.7,226.9L547.3,229.1L545.8,231.2L544,233L543.1,234.8L541.6,236.2L541.2,238.4L540,240L538.1,241.2L535.8,241.6L534,243L532.3,244.9L530.1,246.2L528,247.5L526,249L524,250.5L522.3,252.4L519.7,253.2L518,255L515.6,256L513.5,257.6L510.9,258.2L508.7,259.7L506,260L504.5,261.5L503.1,263.1L501,264L501.6,266.2L501.4,268.5L501.4,270.8L502,273L503.3,275.1L504.1,277.5L505,279.8L506,282"/><path d="M680,142L678.8,143.9L677.2,145.2L675.1,146.1L673.9,148L672,149L670.8,151L668.8,152.2L667.3,153.9L665.9,155.7L664,157L662.1,158.7L659.7,159.8L658.4,162.3L656.3,163.8L654,165L653.1,167.5L651.3,169.2L650,171.4L648,173L645.8,174.1L644.9,176.5L642.4,177.4L641.8,180.1L639.2,180.9L638,183L636,184.5L633.8,185.8L631.8,187.3L630,189L628.1,188.3L626.3,187.4L624.9,185.8L623,185L621.6,186.7L620,188.1L617.5,188.4L616,190L614.3,191.9L613.3,194.2L611.5,196L610,198L608.2,196.8L605.9,197.1L603.8,196.8L602,195.7L600,195L597.7,196.1L595.3,196.4L593,197.5L590.3,197L588,198L585.7,197.2L583.3,197.5L581,197L580.7,199L580.4,201.1L578.8,202.8L579,205L576.7,204.6L574.6,205.1L572.4,206.1L570.2,206.3L568,206L566.2,207.5L565.4,209.8L563.3,211.1L562,213L560,213.9L558.3,215.3L556.2,215.8L553.8,215.6L552,217"/><path d="M630,189L632,190.3L634.1,191.2L635.7,193.1L638.2,193.5L640,195L641.5,197L643.2,198.9L644.6,200.9L646,203L645.2,205L646.6,207L646.1,209L646,211L647.6,212L648.8,213.5L650,215L652.3,214.9L653.9,213.1L656.1,212.8L658,211.7L660,211L660.4,208.5L659.9,206L659.5,203.5L660,201L662.4,200.1L664.8,199.3L667.3,199L669.6,197.9L672,197L674.2,197.2L675.9,198.6L678,199"/><path d="M629,209L627.6,211L626.6,213.2L625,215L626.5,216.7L626.3,219.1L627.7,220.8L628,223L629.8,224.2L631.1,225.9L632.3,227.7L634,229L634.9,231.5L637,233L637.9,235.5L640,237L640.9,239.5L643.3,240.8L645,242.6L646,245"/><path d="M274,135L276.1,135.9L277.4,137.6L278.6,139.4L280,141L280.1,143.4L281.4,145.7L281.8,148.1L282,150.5L282,153L282.8,155.2L284.9,156.7L285.3,159.2L286.6,161.1L288,163L290.3,163.8L292,165.7L294,166.9L296.1,168.2L297.6,170.3L300,171L301.4,173.2L302.3,175.6L301.7,178.4L303.3,180.6L304,183L305,185.4L305.3,187.9L305.7,190.5L306,193L306.6,195.4L308.8,196.8L310,198.8L310.7,201.1L312,203L312.7,205.4L312.9,208L313.9,210.4L315.4,212.5L316,215L316,217.6L314.5,219.9L313.7,222.3L314,225L315.1,227.4L314.3,230L314.4,232.6L315.1,235L316.1,237.4L316,240L316,242.6L316.6,245.1L318,247.4L318,250L316.3,251.9L315.4,254.3L314.1,256.4L312,258L313.2,259.9L314.2,261.9L315.1,263.9L316,266"/><path d="M245,141L247.2,142L248.8,143.7L250.5,145.3L252,147L254.1,145.9L255.2,143.8L257,142.4L257.9,140.1L260,139L261.3,137.7L263.1,136.7L264,135L265,133.3L266.6,131.9L267.5,130.1L268,128L269.7,129.6L271.6,131L272.2,133.5L274,135"/><path d="M186,225L188.4,225.5L190.8,226L193.1,226.7L195.7,226.2L198,227L199.1,229.1L200.1,231.3L202,233L203.6,234.9L206.3,235.2L208,237L210.3,238L212.7,238.8L215.2,239.4L217.4,240.9L220,241L222.3,241.2L224.7,241.2L226.9,242.2L229.3,241.9L231.7,241.5L234,242L236.1,242.7L238,244L240,245L242.6,244.5L245,245.7L247.5,246.1L250,246L252.4,245.3L254.9,245.3L257.4,244.9L259.6,243.7L262,243L264,243.3L266,242.4L268,243L269.6,244.7L270,247L268.3,248.7L268.3,251.2L267.4,253.2L266,255L264.7,256.8L264.3,258.9L264,261L265.5,262.7L266.3,264.9L267.4,266.8L268,269L269.6,270.1L271.2,271.1L272,273L274,273.5L276.1,273.7L278,274.3L280,275"/><path d="M163,283L164.5,284.5L165.9,286.1L167.1,287.9L169,289L170.8,290.4L172.8,291.2L175.1,291.2L176.7,292.9L179,293L178.4,294.7L178,296.4L177,298L179.6,297.9L182,299L184.6,299L187,300L188.6,301.1L189.5,302.8L191,304L193.2,303.1L195.2,301.8L196.6,299.7L199,299L200.8,297.8L202.9,297.6L205,297.6L207,297L209.2,296.8L211.2,296L213.2,295.4L215,294L217.1,292.6L219.1,291.2L220.8,289.2L223,288L224.1,285.8L225.3,283.7L227,282L229,283.1L230.9,284.2L233,285L234.3,286.7L235.9,288.1L237.3,289.7L238.9,291.1L240,293L240.5,295.5L241.9,297.7L243,300L243.1,302.6L243.5,305.1L244.8,307.4L245,310L244.8,312.2L243.7,314.1L242,315.8L241.4,317.8L241,320L241.9,321.9L242.2,324.2L243.6,325.9L243.7,328.2L245,330L247.2,330.2L248.9,332L250.7,333.1L253,333.1L255,334L256.6,335.8L258.6,337.2L260.1,339.2L261.7,340.9L263,343L265.1,343.7L267.3,344.4L269.1,345.7L271.3,346.4L273,348L273.5,350L274.1,352L274.9,353.9L275,356"/><path d="M211,305L208.6,305.9L206,306.6L203.6,307.6L201.2,308.5L199,310L197.2,311.8L194.6,312.4L192.9,314.4L191,316L189.2,317.8L187.7,319.8L186,321.6L185,324L184.5,326.1L183.6,328.1L182.3,329.9L181.7,331.9L181,334L179.6,335.8L179.2,338.1L177.3,339.7L177,342L178.3,343.8L177.9,346.1L179,347.9L180.1,349.8L180,352L181.9,353.3L184.3,353.4L186.2,354.6L188,356L187.8,358.6L187.5,361.1L187,363.6L186,366L187.4,367.7L187.1,370.2L189,371.8L189.7,373.8L190,376L191,377.9L190,380.1L191,382"/><path d="M93,358L93.9,360.3L93.4,363L94.1,365.4L94.8,367.8L96,370L96.4,372.2L97,374.2L99.1,375.7L99,378.1L100,380L102.3,381.3L103.8,383.5L106.1,384.7L107.9,386.5L110,388L112.4,387.7L114.8,387.3L117.3,387.3L119.7,387.2L122,386L123.3,383.9L125.4,382.3L127,380.4L128,378L129.9,376.8L132,376L133.5,377.7L134,380L134.6,382.2L136,384L137.5,386L139.4,387.7L140.2,390.2L142,392L144,392.1L145.9,393.3L148,393"/><path d="M376,252L377.8,250.8L378.8,248.7L380.9,247.9L382.8,246.8L384,245L386.5,244.9L388.8,243.8L391.3,243.4L393.5,242.4L396,242L398,242.6L400.2,242.6L401.9,244.1L404,244.6L406,245L408.5,244.4L411,244.3L413.5,244.6L416,244L418.4,244.5L420.6,245.9L423,246.5L425.5,246.9L428,247L429.1,249.1L429.7,251.4L429.8,253.7L430,256L432.1,257.3L433.8,259.3L435.7,260.9L438,262L438.4,264.5L438.8,267L439.4,269.5L440,272L439.3,274.4L437.3,276L436,278L436.9,280.3L436.9,282.8L438,285.1L437.4,287.6L438,290"/><path d="M400,270L402.5,269.7L405,268.9L407.6,268.9L410,268L412.3,268.2L413.9,269.9L416.1,270.2L417.9,271.4L420,272L422.2,272.3L424.1,273.4L426.1,274.1L428.1,274.9L430,276L431.9,277L434,277.3L436,278"/><path d="M440,272L442.6,272L445,272.8L447.6,273L450,274L451.7,275.5L453.1,277.3L454.6,279L456.7,280.1L458,282L459.5,283.2L461,284.3L462,286"/><path d="M345,300L345.5,302.4L345.2,304.9L346.9,307.1L346.9,309.5L347,312L345.3,313.7L344.8,315.9L344.5,318.3L343,320L342,322.1L340.1,323.7L339.5,326L338.8,328.4L337,330"/><path d="M316,266L317.6,267.4L319.3,268.7L320.9,270.1L322,272L323.7,273.6L325.9,274.1L327.9,275.3L330,276L332,275.6L334,274.8L336.1,274.9L338,274L339.9,275.6L341.7,277.4L343.8,278.7L346,280L346.7,282.3L348.5,284L350.1,285.7L351.3,287.7L352,290L351.2,291.9L351.5,294.1L350.3,295.9L350,298L348.3,298.5L346.9,300L345,300L342.5,300.6L340.6,302.7L338,303L336.9,305.1L336.5,307.4L336.9,309.8L336,312"/><path d="M338,229L339.6,230.9L342,232L343.5,234L345,236L344.9,238.6L343.6,240.9L343.2,243.4L343,246L343.2,248.2L345.2,249.8L345.5,252L346.9,253.7L347,256L348.6,257.2L349.5,259L351.3,260L352,262L353.8,263.2L354.8,265.2L356.4,266.6L358,268L360.2,268.6L361.9,270.1L363.8,271.4L366,272L368.3,270.7L371.1,271.5L373.6,270.8L376,270L377.5,271.9L379.1,273.7L380,276"/><path d="M328,215L326.2,216.3L323.9,215.9L322.2,217.3L320,217.5L318,218L317.2,216.3L316,215"/><path d="M461.5,154.5L461,152L461.3,150.2L461.8,148.5L463.4,146.9L465,145.2L467.2,144.9L469,143.6L470.7,143.8L472,145L472.2,146.8L471.6,148.5L470.6,150.5L468.5,151.5L466.8,153.2L464.5,153.8L463.2,154.9L461.5,154.5"/><path d="M449,153L451.3,152.9L453.5,153.5L456,153.3L458.6,153.1L460.3,153.2L461.5,154.5"/></g><g fill="#fff" stroke="#8f8f8f" stroke-width="0.6" stroke-linejoin="round"><path d="M410.5,300.7L411.2,302.3L411.8,303.9L412.6,305.5L411.6,307.1L411.2,309L413.6,309.5L416,310.3L418.3,309.5L420.7,309.2L423,308.3L425,309.6L427,311L426.5,312.8L425.7,314.5L427.7,313.7L429.8,313.1L431.3,313.9L432.8,314.7L434,315.9L435.5,314.2L436.7,312.4L438.4,313.7L440.3,314.4L442.2,315.2L443.4,313.9L444.3,312.4L443.4,310.6L442.8,308.8L442.2,306.9L444.2,305.9L446.4,305.5L448.3,307.1L450.5,308.3L451.8,306.8L453.2,305.4L454.7,304.1L452.6,302.8L450,302.4L447.8,301.4L445.9,301.1L444.1,301.7L442.2,302L440.3,302.5L438.5,303.3L436.7,304.1L435.5,303.3L434.7,302L436.4,301.5L437.8,300.4L439.5,300L440.8,298.6L442,297L443.6,295.9L441.3,294.9L439.5,293.1"/><path d="M406.4,320.7L408.1,319.2L409.1,317.2L410.9,316.2L413,316.3L414.7,315.2L416.4,314.3L418.4,313.8L420.2,313.1L421.4,314.5L423,315.2L421.7,317.3L420.2,319.3L418.1,320.3L416,321.4L414.1,322.7L411.9,323.4L410.1,323.4L408.5,323.9L407,324.8L406.4,322.8L406.4,320.7"/><path d="M431.2,318L433.2,317.2L435.3,316.6L437,316.9L438.5,317.9L440.2,318L441.2,319.7L442.2,321.4L441.1,323L439.5,324L438.2,322.8L436.7,322L434.9,322.1L433.3,321.4L432,319.9L431.2,318"/><path d="M396.5,344L398,345.5L397,346.3L396,347L394.5,345.5L395.6,344.9L396.5,344"/><path d="M342,354L344,354.7L346,355.5L344.6,356.2L343,356.5L342.8,355.1L342,354"/><path d="M437,340.5L438,339.4L439.5,339L440.8,339.3L442,339.8L444,338.8"/></g><path fill="none" stroke="#9b9b9b" stroke-width="0.8" stroke-linejoin="round" d="M258,59L260.4,59.8L262.9,60.5L265,62L267.7,61.6L270.2,60L273,60L275,60.7L277.1,61.1L279,62L281,61.3L283,62L285,62L287.5,62.1L289.5,63.4L292,63.6L294,65L295.9,64.1L298,64.2L300,64L300.8,66.3L303,67.7L304.1,69.8L305,72L306,74.3L306.8,76.7L308.5,78.7L309.9,80.7L311,83L312,85L314,86L315.6,84L318,83L320.3,83.5L322.7,82.7L325,83L326.8,81.8L328.8,81.1L331,81L329.8,79.7L329,78L327.3,76.1L325,75L326.1,72.3L328,70L329.6,69.1L331,68L329.8,65.9L328.2,64.1L327,62L328.7,60.4L329.9,58.2L332,57L329.5,55.5L328,53L325.5,53.7L323,53.2L320.5,53.9L318,54L317.4,51.4L317.5,48.7L317,46L319.3,46.3L321.7,46.4L324,47L326.6,46.1L328.8,44.6L331,43L333.2,41.6L335.7,41.1L338,40L340,38.5L342,37L342.6,35L342,33L343.9,33.8L346,34L347.5,32.4L349.8,31.9L351,30L352.5,29.4L354,30L355.5,29.9L357,30L357.1,32.1L358,34L360.3,35.1L362,37L363.5,39L365,41L367.3,41.4L369,43L371,42.9L373.1,42.7L375,42L376.5,41.6L378,41L378.9,43.3L380.9,44.8L382,47L384.4,46.6L386.7,45.8L389,45L391.5,44.1L394,43L396,43.9L398,45L400,45.5L402,45L404.1,44.2L405.3,42.3L407,41L408.2,39.1L409,37L411.6,36L414.4,36.6L417,36L418.3,38.1L420,40L420.9,42.9L423,45L422.2,46.9L422.7,49.1L422,51L424,50.5L426,50.6L428,50L430.5,48.6L433.3,48.6L436,48L438.5,47.8L441.1,47.9L443.6,48.1L446,49L448.3,47.3L450,45L452.6,44.1L455.3,44L458,44L460.2,42.6L462.8,42L464.4,39.7L467,39L469.4,39.9L471.6,41.1L474,42L476,44.1L478.4,45.7L481,47L481.9,49L483.9,50.1L485,52L483.1,54.1L481,56L482.2,57.9L482.5,60.3L484,62L481.8,63.2L481,65.7L479,67L476.4,67L474,66L472.3,68.3L470.3,70.3L468,72L465.3,73L462.6,73.9L460,75L458.3,77.3L456.5,79.5L454,81L453.5,83.4L452.9,85.7L452,88L450.9,90.6L449.4,93.1L449,96L447.1,97.5L445.7,99.3L444,101L441.3,102.2L438.5,103.4L436,105L438,106L439,108L440.9,108.9L442.9,109.1L445,109L445.5,111.3L447,113L449.1,112.9L451,112L452.8,114.2L454.5,116.6L456,119L458.5,117.4L461.4,117.2L464,116L466.5,114.7L469.2,114L472,114L474.5,114.6L476.9,115.5L479,117L480.8,115.1L482.6,113.2L485,112L487.8,112.3L490,114L492.4,112.2L495.1,110.8L498,110L499.3,107.9L501,106L503.4,105.6L505.6,107.2L508,107L510.4,106.2L512.5,104.5L515,104L517.6,103L520.3,102.4L523,102L525.4,100.8L527.8,99.5L530.7,99.5L533,98L535.6,98.1L537.8,96.8L540.2,96.2L542.4,95L545,95L547.9,95.8L550.4,97.5L553,99L554.6,101.1L555.1,103.7L557.2,105.5L558,108L560.5,108.1L562.3,110.1L564.7,110.3L567,111L569,113.2L570,116L572.6,115.5L575,114.1L577.8,114.2L580.6,114.3L583,113L582.1,110.7L580.6,108.8L579,107L577.9,104.9L577.3,102.6L576.3,100.4L576,98L577.4,95.3L578,92.4L579.4,89.7L579.8,86.7L581,84L583.7,84.6L586,86L587,84.1L587,82L589.4,83L591.9,83L594.5,83.2L597,83L599.1,85.1L601.5,86.6L604,88L606.2,87.3L608.5,87.5L610.7,87L613,87L615.5,88.5L617.5,90.5L619,93L621.6,91.7L624.2,90.7L627,90L628.7,88.2L630,86L631.6,88L634,89L633.1,91.5L632,94L633.2,96.4L634.8,98.5L637,100L637.9,102.9L640.2,104.9L641.9,107.3L643,110L645.4,108.9L647.9,108.1L650.4,107.3L653,107L655.4,106.9L657.8,106.9L660,106L662.5,105.8L664.7,104.6L667,104L667.8,105.6L669,107L667.8,109.1L668.1,111.7L666.5,113.7L666,116L667,118.4L668.7,120.3L670.2,122.2L672,124L673.5,126.2L675.4,128.2L676.1,131L678,133L678.7,135.2L678.6,137.6L678.8,139.9L680,142L681.8,143.9L683.4,145.9L685,148L683.1,150L682,152.5L681,155L682.2,157.1L683,159.3L683.7,161.6L684,164L683.6,166.3L684,168.6L685.3,170.7L685,173L685.9,175.9L687,178.7L689,181L689.3,183.5L690.2,186L690.4,188.5L691,191L693.3,191.9L695.4,193.1L697,195L698.7,196.6L700.9,197.2L703,198L701,200L698.5,201.5L697,204L696.2,202L696.2,199.8L695,198L692.8,196.1L690,195L688.2,196.7L686.2,198L684,199L682.5,200.6L680.9,202L679,203L677.4,205.4L676,208L675.7,210.1L674.8,212L674,214L673.1,216.3L670.8,217.7L670,220L668.5,222.1L666.7,224L665,226L665.5,228.4L665.8,230.8L667,233L664.7,233.1L662.3,232.4L660,233L658.3,234.3L656.6,235.6L655,237L653,238L651.3,239.6L649,240L647.6,242.5L646,245L647.1,246.8L648,248.8L648,251L645.7,252.1L644,254L642.3,256.3L640,258L638,257.7L636.1,257L634,257L631.3,257.2L628.7,257.9L626,258L624,258.3L622,258.6L620,259L617.7,260.2L616,262L614.2,263.2L612,263.2L610,264L608.2,265.6L606.2,266.9L604,268L601.3,267.9L598.7,268.7L596,269L593.3,269.6L590.6,270L588,271L585.4,270.9L583,272L582.1,274L581,276L580.5,273.9L579.7,272L579,270L576.5,268.5L574,267L572.1,266.1L570,265.7L568,265L566,266.3L564,267.7L562,269L559.9,270.2L558.5,272.1L557,274L558.1,275.9L560,277L559,279.2L559.7,281.7L559,284L556.5,282.4L554,281L551.3,280.7L548.6,281.2L546,282L543.8,281.5L541.7,280.5L540,279L538.9,277L538,275L535.2,275L532.6,274L530,273L531.7,271.4L534,271L535.5,269.1L537,267.2L538,265L536.5,264.4L535,265L533.7,267.3L531.4,268.8L530,271L528.1,270.3L526,270L524.1,270.9L521.9,270.1L520,271L517.1,271.3L514.8,273.4L512,274L510.8,276.4L511,279L508.6,280.6L506,282L504.5,283.8L502.4,285L501.1,286.9L500,289L500,291.1L499,293L497.4,291.1L496,289L493.2,289L490.5,289.2L487.8,289.5L485,289L485.2,286.4L486.3,284.1L485.8,281.4L487,279L488.7,277.1L490.3,274.9L492,273L489.9,271.4L489,269L488.7,271.1L488,273L485.3,273.1L482.7,273.6L480,274L478.3,275.6L475.7,275.3L474,277L471.3,278.1L469,280L468,282.2L468.9,284.8L468,287L469.8,288.8L471,291L472.6,292.7L472.6,295.2L474,297L472.2,299.2L470,301L468.1,302L466,302L464,301.6L462,301L463.1,298.6L463,296L464.4,294.2L465,292L464.3,290.1L463.8,288.1L464,286L462.3,285.9L461,287L458.5,287.4L456,288L453.9,288.4L452.2,289.9L450,290L447.6,291.2L445,291L442.9,291.4L441,292.4L439,293L436.7,294.4L434,294.5L431.6,294L429.3,294.6L427,295L424.6,295.1L422.5,296.7L420,296.6L417.5,296.3L415,297L413.2,299.4L410.5,300.7L408.4,300L409.9,298.8L410.5,297L409,294.5L407.4,292.8L406,291L404.5,289.5L403.4,287.6L402,286L401,283.2L399,281L397.7,279.2L396.5,277.2L396,275L393.5,274.7L391,274.5L388.6,275.6L386,276L387.2,278.1L387.7,280.4L388.5,282.6L388.4,285L389.5,287.4L389.8,290L389,291.4L387.8,292.4L386.5,290.9L385.7,289L384.5,288L383,287.6L382.6,289.9L381.6,292L380.8,294.5L380,297L380.1,299.1L379.6,301L379,303L380.6,304.7L381,307L382.3,308.3L383,310L381.6,312.4L382.9,314.8L382.8,317.6L381.4,320.2L380.7,323L378.8,324.4L377,326L376.4,327.6L375,328.6L376.5,329.3L378,330L378,332.2L379.3,334L377.3,335.3L375,335.5L373.9,334.3L372.4,334L370.4,335.2L368.3,336.2L366.9,336.9L365.5,337.6L364.3,339.5L364,341.7L361.7,341.9L359.5,341.7L357.2,341.7L357.1,339.3L356.5,337L354.5,337L353,338.3L351.5,340.5L349.7,342.4L348.2,344.2L347.6,346.5L347.9,344.4L347.6,342.4L346.4,340.2L344.8,338.3L342.9,337L341,335.6L339.3,334L337.4,332.4L336.5,330L334.6,331.2L332.4,331.4L332.6,333.7L331.1,335.7L331,338L331.8,340.3L332.4,342.6L332.4,345L332.3,347.1L330.5,348.6L330.3,350.7L327.6,351.6L325.5,353.4L323,355L321.9,353.2L320.1,351.9L319,350L316.8,349.3L314.9,348.3L313,347L311,348.4L309.3,350.1L307,351L305.4,352.4L303.9,353.9L302,355L299.9,357.1L299,360L296.3,360.7L294.3,362.6L292,364L289.3,362.8L287,361L284.9,359.4L282.2,359.3L280,358L279.5,360.1L279.4,362.2L278,364L275.7,365.2L273.3,366L271,367L268.7,367.2L266.5,367.9L264.2,367.7L262,368L260.3,366.3L259.7,364.2L259,362L256.8,361.9L255,360.8L253,360L250.4,361L247.8,361.4L245,361L243.1,362.3L241.2,363.4L239,364L236.9,365.2L235,366.6L233,368L230.3,369.2L228,371L226.7,368.9L225,367L223.5,365.4L222,363.9L220,363L217.7,363.2L215.3,363.3L213,363L214.2,364.9L216.7,365.3L218,367L219.1,369.2L220.5,371.1L222,373L221.2,375.1L218.9,376L218,378L215.1,378.4L212.6,379.8L210,381L207.2,381.7L204.5,382.6L202,384L199.4,384.9L196.7,384.6L194,385L193,383.5L192,382L189.8,382.6L187.8,383.6L186,385L183.7,385.9L181.9,387.6L180,389L178.1,390.1L177,392L175.7,389.8L174,388L172,388L170.1,389.1L168,389L165.2,389L162.5,388.2L160,387L158,386.9L155.9,386.9L154,386L153,387.3L153,389L151.3,390.3L149.5,391.5L148,393L145.3,393.5L142.6,394.1L140,395L138,396L136,397L133.6,398L131,397.6L128.5,398.9L126.5,401L124.7,402.4L123.5,404.3L122,406L121,408.5L120,411L118.5,413.4L117.5,416L116.8,418.5L115,420.4L113.7,421.9L113,423.7L112.9,425.5L112,427L111.7,429.5L110.3,431.5L110.3,433.6L109.2,435.4L109.2,437.5L107.5,437L106.3,434.6L106,432L105.6,430.1L104.6,428.5L101.7,428.4L99.2,429.8L96.5,430.4L94,431.4L91.3,432.2L88.7,433L86.4,433.7L84.1,434.6L82,436L80.1,436.3L78.2,437L78.3,439.8L78.8,442.5L80.9,444L82,446.4L84.2,445.9L86.5,446L88.7,446.4L91.4,447.6L94.3,448L95.9,449.3L97,451L94.8,451.9L92.6,453L91.9,455.4L90,457L92.2,457L94,458.3L92,460.4L89.5,462L91.4,462.8L93.3,463.5L95.3,463.8L96.8,463.3L98,462.4L100,463L102.2,464.1L104,465.7L106,467L107.5,469L109,471L109.7,473L110.9,474.8L111,477L109.5,478.7L109.4,481.2L108,483L105.5,484.5L103.5,486.5L102,489L100.5,491.2L98,492.4L96,494L93.2,494.6L90.4,495.3L88,497L85.5,497.6L83.1,498.3L80.6,498.9L78,499L75.4,498L72.6,498.8L70,498L67.7,496.9L65.1,496.5L63,495L61.2,495L59.5,495L57.8,496.4L57.6,498.8L56,500.3L56.7,498L56.5,495.7L57.3,493.4L57,491L55.5,489.1L53.4,488L52,486L52.9,484.1L52.6,482L53,480L50.8,478.5L49.1,476.5L48,474L49,471.5L50,469L48.3,467.7L46.5,466.6L45,465L42.3,464.5L40,463L41.8,460.8L44,459L42.8,457.1L42.5,454.8L41,453L39.9,450.4L40.7,447.6L40,445L38.3,443.1L36,442L34.8,439.8L35.3,437.2L34,435L35.3,432.4L36.6,429.9L37,427L36,424.8L35.5,422.4L35,420L36.6,418.2L38.9,417.2L40,415L40.8,412.7L41.1,410.3L42,408L42.6,405.6L43,403.2L44,401L46,399.6L48.3,398.9L50.9,399.2L53,398L53.4,395.3L55,392.8L55,390L52.4,389.9L50,389L47.8,387.8L46,386L44.3,384L42.3,382.3L41,380L41.1,378L42.3,376.1L42,374L44,374.6L46,374.5L48,374L49.9,372.6L51.9,371.5L53.7,370L55,368L55.6,365.8L56.3,363.6L55.8,361.1L57,359L58.9,357.2L60.3,355L62,353L64.7,353.4L67.3,353.2L70,353L72.5,352.7L75,352.3L77.5,353.6L80,353L82.1,351.7L84.5,351.5L86.7,350.5L89,350L91.8,350.7L94.2,352.3L97,353L99.1,352.2L100.1,350.1L102,349L99.6,347.8L97,347L96,344.7L95.7,342.3L95,340L94.5,337.4L93.8,334.7L94,332L92.5,330.2L92,328L94.2,326.6L96.9,326.6L99,325L101.5,326.5L104,328L105.8,326.6L108.3,326.5L110,325L111.5,327.2L114,328.3L116,330L117.8,328.5L119.8,327.6L122,327L122.4,324.1L123.8,321.6L125,319L127,316.8L129.4,315.3L132,314L130.1,312.2L128.7,309.9L127,308L126.5,305.4L125.3,303.2L124,301L125.9,299.9L127.9,298.9L130,298L130.4,295.7L130.5,293.3L131,291L133,290.4L134.9,289.7L137,290L139.2,289.2L141.7,289.7L143.6,288L146,288L148,287L150.1,286.2L152,285L154,284.1L155.1,282L157,281L158.8,278.8L161,277L163.4,276.1L166,275.9L168.5,275.4L171,275L173.7,273.9L176,272.1L178,270L179.7,268.3L179.9,265.6L181.2,263.6L183,262L183.6,260.1L184.3,258.1L184,256L185.6,254.6L187.4,253.4L189,252L187.5,249.4L187.3,246.5L187.4,243.6L186,241L186.3,238.2L186.1,235.4L186.1,232.5L184.8,229.8L185,227L184.6,224.4L184.9,221.8L185.6,219.2L186.1,216.6L186,214L188.6,213.6L190.8,212.3L193,211L193.7,208.5L194.4,206.1L194.4,203.5L195,201L196.1,199L197,197L199.7,196.3L202.3,197.4L205,197L206.4,194.7L208.8,193.4L210,191L209.5,188.9L208.4,187.1L208,185L208.5,182.8L209.7,180.8L211,179L213.3,179.2L215.7,179.3L218,179L220.1,178.8L222.1,179L224,180L224.5,177.5L225,175L227.1,173.1L229,171L230.9,168.9L232.7,166.7L235,165L234.1,162.5L232.3,160.5L231.7,157.9L230.9,155.4L230,153L230.7,150.3L230.2,147.7L230,145L232.7,144.5L235,143L237.4,141.6L240,141L241.4,138.8L243.9,137.4L245,135L244.5,132.1L243.1,129.4L241.8,126.7L241.7,123.7L241.1,120.8L240,118L238.6,115.6L237.2,113.2L236.5,110.4L235,108L236.6,105.6L236.6,102.5L238,100L239.8,97.8L242.3,96.6L244.5,95.1L247,93.8L249,92L250.7,90.3L253.2,89.7L255,88L254.6,85.4L253.5,83L252.3,80.6L252,78L253.5,75.5L253.4,72.5L255,70L255,67L255.9,64.3L257.5,61.8ZM682,214L684.3,213.3L686.7,212.7L689,212L691.1,212.1L693,211.3L695,211L697.5,212.5L700,214L698.9,216L698,218L695.6,218L693.3,217.3L691,217L688.7,216.9L686.3,216.7L684,217L682.7,215.7ZM680,203L682.7,203.3L685.3,203.8L688,204L686.4,205.9L685,208L682.8,207.3L681,206L680,204.7ZM289,377L290.1,374.9L291.8,373.1L293,371L295.1,370.5L297.1,370L299,369L299.8,370.9L300,373L298.1,374.6L296.2,376L294,377L291.5,377.3ZM305,370L306.7,367.7L309.1,366.1L311,364L313.4,363.8L315.7,363.8L318,363L317.2,365.6L316,368L313.6,369.7L311,371L312.3,373.6L314,376L312.4,378.4L311,381L308.9,379.1L307,377L308.2,375.1L309,373L306.9,371.6ZM225,380L226.9,377.7L228,375L230.5,373.9L233.4,373.9L236,373L238.1,373L239.9,374.1L242,374L240.3,375.9L238,377L235.2,377.3L232.6,378.2L230,379L227.4,379.1ZM113,442L113.9,439.4L115,437L117.5,437L120,437L119.4,439L118.7,441L118,443L115.5,442.6Z"/><g fill="#f6f6ea" fill-opacity="0.25" stroke="#a0a0a0" stroke-width="0.6"><circle cx="401.4" cy="94" r="1.6"/><circle cx="331" cy="147" r="1.6"/><circle cx="607" cy="146.6" r="1.6"/><circle cx="509" cy="165" r="1.6"/><circle cx="669.4" cy="182.6" r="1.6"/><circle cx="259.2" cy="200.2" r="1.6"/><circle cx="384" cy="227.2" r="1.6"/><circle cx="607" cy="227" r="1.6"/><circle cx="651.6" cy="227" r="1.6"/><circle cx="455.6" cy="235.5" r="1.6"/><circle cx="330.6" cy="254" r="1.6"/><circle cx="553.4" cy="253.6" r="1.6"/><circle cx="224" cy="262.8" r="1.6"/><circle cx="401.8" cy="262.5" r="1.6"/><circle cx="437.6" cy="289.4" r="1.6"/><circle cx="366" cy="298.5" r="1.6"/><circle cx="303.6" cy="315.6" r="1.6"/><circle cx="357.4" cy="325" r="1.6"/><circle cx="223.6" cy="333.6" r="1.6"/><circle cx="152.5" cy="343" r="1.6"/><circle cx="72.4" cy="431.6" r="1.6"/></g><g fill="#1c1c1c" font-family="&quot;Liberation Serif&quot;, &quot;Noto Serif CJK SC&quot;, serif" font-size="13.9"><text x="371.2" y="99.6">韶关</text><text x="300.9" y="152.5">清远</text><text x="577.5" y="152.2">梅州</text><text x="478.8" y="170.5">河源</text><text x="639.9" y="188.1">潮州</text><text x="228.9" y="205.8">肇庆</text><text x="354.5" y="232.7">广州</text><text x="577.2" y="232.6">揭阳</text><text x="621.5" y="232.5">汕头</text><text x="426.1" y="241.1">惠州</text><text x="301" y="259.5">佛山</text><text x="523.4" y="259.1">汕尾</text><text x="193.8" y="268.4">云浮</text><text x="371.7" y="268">东莞</text><text x="407.8" y="294.8">深圳</text><text x="336.4" y="304">中山</text><text x="274" y="321.2">江门</text><text x="327" y="330.5">珠海</text><text x="193.2" y="339">阳江</text><text x="122.9" y="348.5">茂名</text><text x="42" y="437.1">湛江</text></g><g font-family="Liberation Serif, serif" font-size="14.5" fill="#000" stroke="#000" stroke-width="0.2"><text transform="translate(265.5,92.4) rotate(22)" x="0" y="4.9" text-anchor="middle">50</text><text transform="translate(319.3,87.4) rotate(-35)" x="0" y="4.9" text-anchor="middle">0</text><text transform="translate(478,126.4) rotate(71)" x="0" y="4.9" text-anchor="middle">50</text><text transform="translate(511.4,109.6) rotate(-42)" x="0" y="4.9" text-anchor="middle">0</text><text transform="translate(264.6,169.5) rotate(-40)" x="0" y="4.9" text-anchor="middle">0</text><text transform="translate(240.5,177) rotate(48)" x="0" y="4.9" text-anchor="middle">50</text><text transform="translate(229.8,191.6) rotate(50)" x="0" y="4.9" text-anchor="middle">100</text><text transform="translate(216.8,204.5) rotate(55)" x="0" y="4.9" text-anchor="middle">150</text><text transform="translate(285,217.5) rotate(35)" x="0" y="4.9" text-anchor="middle">100</text><text transform="translate(566.1,216.5) rotate(40)" x="0" y="4.9" text-anchor="middle">0</text><text transform="translate(451.3,257.4) rotate(-18)" x="0" y="4.9" text-anchor="middle">50</text><text transform="translate(280.2,306.8) rotate(25)" x="0" y="4.9" text-anchor="middle">200</text><text transform="translate(277.5,314.6) rotate(25)" x="0" y="4.9" text-anchor="middle">150</text><text transform="translate(281.2,323.5) rotate(25)" x="0" y="4.9" text-anchor="middle">100</text><text transform="translate(308.6,338)" x="0" y="4.9" text-anchor="middle">50</text><text transform="translate(269.3,351.2) rotate(9)" x="0" y="4.9" text-anchor="middle">0</text><text transform="translate(296.2,353.3) rotate(5)" x="0" y="4.9" text-anchor="middle">0</text><text transform="translate(91,390.1) rotate(15)" x="0" y="4.9" text-anchor="middle">0</text></g><rect x="225.4" y="441.5" width="56.6" height="27.3" fill="#FCC462"/><rect x="281.8" y="441.5" width="56.6" height="27.3" fill="#FCDF7C"/><rect x="338.1" y="441.5" width="56.6" height="27.3" fill="#F9FAD4"/><rect x="394.5" y="441.5" width="56.6" height="27.3" fill="#99E2D5"/><rect x="450.8" y="441.5" width="56.6" height="27.3" fill="#6BAED6"/><rect x="507.1" y="441.5" width="56.6" height="27.3" fill="#3A8DDA"/><rect x="563.5" y="441.5" width="56.6" height="27.3" fill="#4F62CF"/><rect x="619.9" y="441.5" width="56.4" height="27.3" fill="#5440B9"/><g font-family="Liberation Serif, serif" font-size="14.5" fill="#222"><text x="281.8" y="486.2" text-anchor="middle">−50</text><text x="338.1" y="486.2" text-anchor="middle">0</text><text x="394.5" y="486.2" text-anchor="middle">50</text><text x="450.8" y="486.2" text-anchor="middle">100</text><text x="507.1" y="486.2" text-anchor="middle">150</text><text x="563.5" y="486.2" text-anchor="middle">200</text><text x="619.9" y="486.2" text-anchor="middle">250</text></g></svg></body></html>
